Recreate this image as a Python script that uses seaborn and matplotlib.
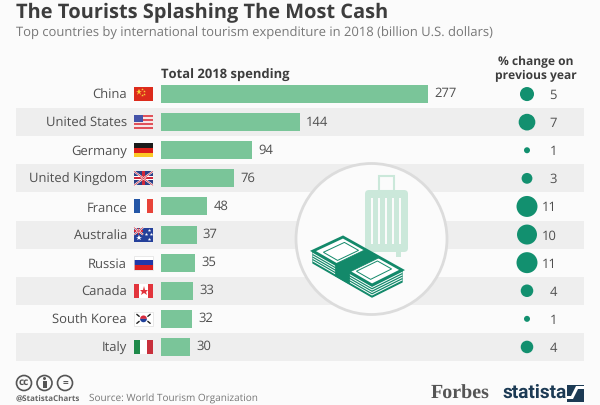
"""Tourism expenditure chart, bars plus bubbles on a statista style page."""

import matplotlib.pyplot as plt
from matplotlib.patches import Circle, FancyBboxPatch, Polygon, Rectangle, Wedge
import pandas as pd
import seaborn as sns

countries = ["China", "United States", "Germany", "United Kingdom", "France",
             "Australia", "Russia", "Canada", "South Korea", "Italy"]
spending = [277, 144, 94, 76, 48, 37, 35, 33, 32, 30]
pct_change = [5, 7, 1, 3, 11, 10, 11, 4, 1, 4]

BG = "#fbfbfb"
BAND = "#eeeeee"
BAR = "#7ac599"
DOT = "#12906f"
TXT = "#4f4f4f"
DARK = "#3d3d3d"
NAVY = "#1c3a54"

sns.set_theme(style="white")
plt.rcParams["font.family"] = ["Open Sans", "DejaVu Sans"]
plt.rcParams["text.hinting"] = "none"
plt.rcParams["text.hinting_factor"] = 1

W, H = 600, 405
TOP, BOTTOM = 80, 361
PITCH = (BOTTOM - TOP) / len(countries)
LABEL_SIZE = 9.2


def px_axes(fig, left, top, right, bottom, zorder):
    """Axes placed with pixel edges, y measured from the top of the page."""
    ax = fig.add_axes([left / W, 1 - bottom / H, (right - left) / W, (bottom - top) / H], zorder=zorder)
    ax.patch.set_alpha(0)
    return ax


def box(ax, x, y, w, h, color, **kw):
    ax.add_patch(Rectangle((x, y), w, h, fc=color, ec="none", **kw))


def draw_union(ax, x, y, w, h):
    box(ax, x, y, w, h, "#2b3f86")
    ax.plot([x, x + w], [y, y + h], color="white", lw=1.4, solid_capstyle="butt")
    ax.plot([x, x + w], [y + h, y], color="white", lw=1.4, solid_capstyle="butt")
    ax.plot([x, x + w], [y, y + h], color="#d0283a", lw=0.5, solid_capstyle="butt")
    ax.plot([x, x + w], [y + h, y], color="#d0283a", lw=0.5, solid_capstyle="butt")
    box(ax, x + w / 2 - h * 0.14, y, h * 0.28, h, "white")
    box(ax, x, y + h * 0.36, w, h * 0.28, "white")
    box(ax, x + w / 2 - h * 0.08, y, h * 0.16, h, "#d0283a")
    box(ax, x, y + h * 0.42, w, h * 0.16, "#d0283a")


def draw_flag(ax, name, cy):
    x, y, w, h = 134, cy - 7, 19, 14
    if name == "China":
        box(ax, x, y, w, h, "#dc2b1c")
        ax.plot([x + 4.5], [y + 4.5], marker="*", ms=5, color="#f7d038", mew=0)
        for dx, dy in [(8, 2), (9.5, 4), (9.5, 6.5), (8, 8)]:
            ax.plot([x + dx], [y + dy], marker="*", ms=2, color="#f7d038", mew=0)
    elif name == "United States":
        box(ax, x, y, w, h, "#e0525a")
        for i in range(1, 7, 2):
            box(ax, x, y + i * 2 + 0.2, w, 1.2, "#f6e6e6")
        box(ax, x, y, 9, 7.2, "#4453a8")
    elif name == "Germany":
        box(ax, x, y, w, h / 3, "#1a1a1a")
        box(ax, x, y + h / 3, w, h / 3, "#dd1f1a")
        box(ax, x, y + 2 * h / 3, w, h / 3, "#fbc926")
    elif name == "United Kingdom":
        draw_union(ax, x, y, w, h)
    elif name == "France":
        box(ax, x, y, w / 3, h, "#2456a6")
        box(ax, x + w / 3, y, w / 3, h, "white")
        box(ax, x + 2 * w / 3, y, w / 3, h, "#e8443a")
    elif name == "Australia":
        box(ax, x, y, w, h, "#24409a")
        draw_union(ax, x, y, 9, 7)
        ax.plot([x + 4.5], [y + 10.5], marker="*", ms=4, color="white", mew=0)
        for dx, dy in [(15, 2), (12, 6), (17, 6), (14.5, 11)]:
            ax.plot([x + dx], [y + dy], marker="*", ms=2.6, color="white", mew=0)
    elif name == "Russia":
        box(ax, x, y, w, h / 3, "white")
        box(ax, x, y + h / 3, w, h / 3, "#2238a8")
        box(ax, x, y + 2 * h / 3, w, h / 3, "#dc2020")
        ax.add_patch(Rectangle((x, y), w, h, fc="none", ec="#e0e0e0", lw=0.5))
    elif name == "Canada":
        box(ax, x, y, w, h, "white")
        box(ax, x, y, 5, h, "#e2343c")
        box(ax, x + 14, y, 5, h, "#e2343c")
        ax.plot([x + 9.5], [y + 6.8], marker="*", ms=6.5, color="#e2343c", mew=0)
    elif name == "South Korea":
        box(ax, x, y, w, h, "white")
        ax.add_patch(Rectangle((x, y), w, h, fc="none", ec="#e0e0e0", lw=0.5))
        ax.add_patch(Wedge((x + 9.5, y + 7), 3.4, 180, 360, fc="#d9283a", ec="none"))
        ax.add_patch(Wedge((x + 9.5, y + 7), 3.4, 0, 180, fc="#20409a", ec="none"))
        for dx, dy in [(4, 3.5), (15, 10.5)]:
            ax.plot([x + dx - 1.2, x + dx + 1.2], [y + dy - 1, y + dy + 1], color="#222222", lw=1)
        for dx, dy in [(15, 3.5), (4, 10.5)]:
            ax.plot([x + dx - 1.2, x + dx + 1.2], [y + dy + 1, y + dy - 1], color="#222222", lw=1)
    elif name == "Italy":
        box(ax, x, y, w / 3, h, "#1f8a4a")
        box(ax, x + w / 3, y, w / 3, h, "white")
        box(ax, x + 2 * w / 3, y, w / 3, h, "#c8303c")


def lerp(a, b, t):
    return (a[0] + (b[0] - a[0]) * t, a[1] + (b[1] - a[1]) * t)


def draw_icon(ax):
    """Suitcase and stack of banknotes inside the round badge."""
    ax.add_patch(Circle((371.5, 239), 75.5, fc=BG, ec="#dcdcdc", lw=2, zorder=3))
    pale = "#cbe8da"
    ax.add_patch(Rectangle((379, 176), 15, 15, fc="none", ec=pale, lw=1.5, zorder=4))
    ax.add_patch(FancyBboxPatch((365, 190), 43, 62, boxstyle="round,pad=0,rounding_size=4",
                                fc=pale, ec="none", zorder=4))
    for sx in [372, 379, 386, 393, 400]:
        box(ax, sx - 0.7, 198, 1.4, 46, BG, zorder=5)
    box(ax, 396, 252, 5, 5, pale, zorder=4)

    green = "#13896a"
    left, top_c, right, bot = (313, 251), (343, 237), (402, 270), (372, 285)
    depth = 12
    side = [left, bot, right, (right[0], right[1] + depth), (bot[0], bot[1] + depth), (left[0], left[1] + depth)]
    ax.add_patch(Polygon(side, fc=green, ec=green, lw=1, zorder=6))
    for d in [2.5, 5, 7.5, 10]:
        ax.plot([left[0], bot[0], right[0]], [left[1] + d, bot[1] + d, right[1] + d], color="white", lw=0.7, zorder=7)
    ax.add_patch(Polygon([left, top_c, right, bot], fc="white", ec=green, lw=2, zorder=6))

    # inner outlines of the note, either side of the strap
    for t0, t1 in [(0.1, 0.34), (0.66, 0.9)]:
        a, b = lerp(left, bot, t0), lerp(top_c, right, t0)
        c, d = lerp(top_c, right, t1), lerp(left, bot, t1)
        a, b = lerp(a, b, 0.15), lerp(a, b, 0.85)
        c, d = lerp(d, c, 0.85), lerp(d, c, 0.15)
        ax.add_patch(Polygon([a, b, c, d], fc="none", ec=green, lw=0.7, zorder=7))
    s0, s1 = 0.38, 0.62
    strap = [lerp(left, bot, s0), lerp(top_c, right, s0), lerp(top_c, right, s1), lerp(left, bot, s1)]
    ax.add_patch(Polygon(strap, fc=green, ec=green, lw=0.5, zorder=8))
    low = [lerp(left, bot, s0), lerp(left, bot, s1),
           (lerp(left, bot, s1)[0], lerp(left, bot, s1)[1] + depth),
           (lerp(left, bot, s0)[0], lerp(left, bot, s0)[1] + depth)]
    ax.add_patch(Polygon(low, fc=green, ec=green, lw=0.5, zorder=8))


df = pd.DataFrame({"country": countries, "spending": spending, "change": pct_change})
df["column"] = 0

fig = plt.figure(figsize=(W / 100, H / 100), dpi=100, facecolor=BG)

# page layer: bands, flags, headings, footer
page = px_axes(fig, 0, 0, W, H, 0)
page.set_xlim(0, W)
page.set_ylim(H, 0)
page.axis("off")

for i, name in enumerate(countries):
    cy = TOP + PITCH * (i + 0.5)
    if i % 2 == 1:
        box(page, 16, cy - PITCH / 2, 568, PITCH, BAND)
    draw_flag(page, name, cy)

page.text(16, 18, "The Tourists Splashing The Most Cash", fontsize=14.55, fontweight="bold", color=DARK)
page.text(16, 37, "Top countries by international tourism expenditure in 2018 (billion U.S. dollars)",
          fontsize=9.53, color="#777777")
page.text(161, 79, "Total 2018 spending", fontsize=9.05, fontweight="bold", color=DARK)
page.text(536, 69, "% change on\nprevious year", fontsize=8.8, fontweight="bold", color=DARK,
          va="center", ha="center", linespacing=1.15)

# footer
for cx, sym in zip([24, 44.5, 65], ["cc", "", "="]):
    page.add_patch(Circle((cx, 383), 7.5, fc="none", ec="#555555", lw=1.2))
    if sym:
        page.text(cx, 382.5, sym, fontsize=7, fontweight="bold", color="#555555", ha="center", va="center")
page.add_patch(Circle((44.5, 378.5), 1.5, fc="#555555", ec="none"))
box(page, 42.5, 381, 4, 7, "#555555")
page.text(16, 398.5, "@StatistaCharts", fontsize=5.85, fontweight="bold", color="#666666", va="center")
page.text(89, 398.5, "Source: World Tourism Organization", fontsize=7.1, color="#777777", va="center")
page.text(431, 394, "Forbes", fontsize=14.5, fontweight="bold", family="Liberation Serif", color="#555555", va="center")
page.text(502, 393, "statista", fontsize=14, fontweight="bold", family="Roboto", color=NAVY, va="center")
box(page, 567, 385, 17, 17, NAVY)
page.add_patch(Polygon([(567, 399), (573, 399), (578, 389), (584, 389), (584, 386), (576, 386), (571, 396), (567, 396)],
                       fc="white", ec="none"))

# bars
ax = px_axes(fig, 161, TOP, 428, BOTTOM, 1)
sns.barplot(data=df, x="spending", y="country", color=BAR, saturation=1, width=0.64, linewidth=0, ax=ax)
ax.set_xlim(0, 277)
ax.set_ylim(len(countries) - 0.5, -0.5)
ax.set_xlabel("")
ax.set_ylabel("")
ax.set_xticks([])
ax.tick_params(axis="y", length=0, pad=24.5, labelsize=LABEL_SIZE, labelcolor=TXT)
sns.despine(ax=ax, left=True, bottom=True)
ax.bar_label(ax.containers[0], fmt="%d", padding=4.5, fontsize=LABEL_SIZE, color=TXT)

# badge goes over the bands
icon = px_axes(fig, 0, 0, W, H, 2)
icon.set_xlim(0, W)
icon.set_ylim(H, 0)
icon.axis("off")
draw_icon(icon)

# bubbles
bub = px_axes(fig, 497, TOP, 557, BOTTOM, 3)
sns.scatterplot(data=df, x="column", y="country", size="change", sizes=(18.7, 228), color=DOT,
                linewidth=0, legend=False, ax=bub)
bub.set_xlim(-1, 1)
bub.set_ylim(len(countries) - 0.5, -0.5)
bub.axis("off")
for i, val in enumerate(pct_change):
    bub.annotate(str(val), xy=(1, i), xycoords=("axes fraction", "data"), ha="right", va="center_baseline",
                 fontsize=LABEL_SIZE, color=TXT, annotation_clip=False)

fig.savefig("out.png", dpi=100, facecolor=BG)
plt.close(fig)
